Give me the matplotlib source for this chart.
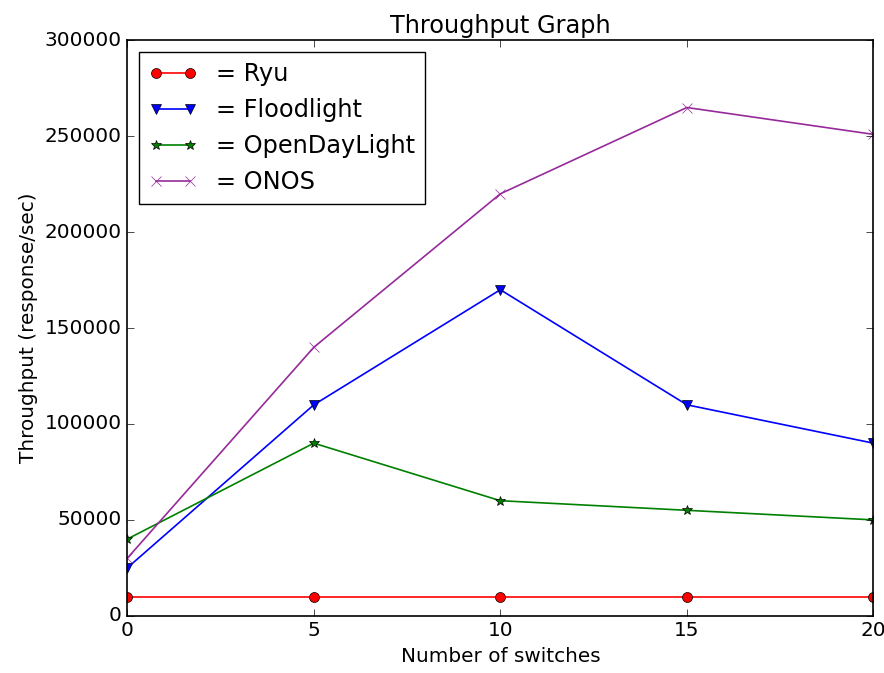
import matplotlib
matplotlib.use("Agg")
import matplotlib.pyplot as plt

plt.style.use('classic')
s = 1.2
plt.rcParams.update({
    'font.size': 12 * s,
    'axes.titlesize': 14.4 * s,
    'axes.labelsize': 12 * s,
    'xtick.labelsize': 12 * s,
    'ytick.labelsize': 12 * s,
    'legend.fontsize': 14.4 * s,
    'lines.linewidth': 1.0 * s,
    'lines.markersize': 6 * s,
    'axes.linewidth': 1.0 * s,
    'xtick.major.size': 4 * s,
    'ytick.major.size': 4 * s,
})

switches = [0, 5, 10, 15, 20]
ryu = [10000, 10000, 10000, 10000, 10000]
floodlight = [25000, 110000, 170000, 110000, 90000]
odl = [40000, 90000, 60000, 55000, 50000]
onos = [30000, 140000, 220000, 265000, 251000]

fig = plt.figure(figsize=(8.84, 6.73), dpi=100)
fig.patch.set_facecolor('white')
ax = fig.add_subplot(111)
fig.subplots_adjust(left=0.144, right=0.988, top=0.94, bottom=0.085)

ax.plot(switches, ryu, 'r-o', label='= Ryu')
ax.plot(switches, floodlight, 'b-v', label='= Floodlight')
ax.plot(switches, odl, 'g-*', label='= OpenDayLight')
ax.plot(switches, onos, '-x', color='#962a9b', markeredgecolor='#962a9b', label='= ONOS')

ax.set_xlim(0, 20)
ax.set_ylim(0, 300000)
ax.set_title('Throughput Graph')
ax.set_xlabel('Number of switches')
ax.set_ylabel('Throughput (response/sec)')
ax.legend(loc='upper left')

fig.savefig('out.png', dpi=100, facecolor='white')
